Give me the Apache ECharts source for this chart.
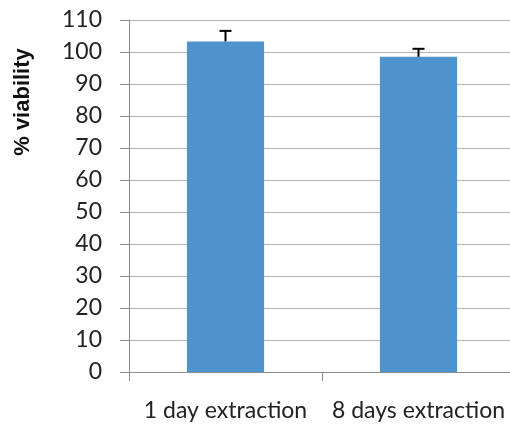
<!DOCTYPE html>
<html><head><meta charset="utf-8">
<script src="https://cdn.jsdelivr.net/npm/echarts@6/dist/echarts.min.js"></script>
<style>html,body{margin:0;padding:0;background:#fff}#c{width:510px;height:428px}</style>
</head><body><div id="c"></div>
<script>
const categories = ['1 day extraction', '8 days extraction'];
const viability = [103.3, 98.5];
const errors = [3.3, 2.5];
const yTicks = {min: 0, max: 110, interval: 10};

const chart = echarts.init(document.getElementById('c'));
chart.setOption({
  animation: false,
  grid: {left: 129, width: 386, top: 20, height: 352, outerBoundsMode: 'none'},
  xAxis: {
    type: 'category', data: categories,
    axisLine: {lineStyle: {color: '#8c8c8c', width: 1}},
    axisTick: {show: true, length: 9, alignWithLabel: false, lineStyle: {color: '#8c8c8c'}},
    axisLabel: {interval: 0, hideOverlap: false, margin: 27, fontFamily: 'Lato', fontSize: 23, color: '#222'}
  },
  yAxis: {
    type: 'value', min: yTicks.min, max: yTicks.max, interval: yTicks.interval,
    axisLine: {show: true, lineStyle: {color: '#8c8c8c'}},
    axisTick: {show: true, length: 9, lineStyle: {color: '#8c8c8c'}},
    splitLine: {lineStyle: {color: '#b4b4b4', width: 1}},
    axisLabel: {margin: 27, fontFamily: 'Lato', fontSize: 23, color: '#222'}
  },
  graphic: [{
    type: 'text', x: 23, y: 102, rotation: Math.PI / 2,
    style: {text: '% viability', font: 'bold 22px "Liberation Sans"', fill: '#111', textAlign: 'center', textVerticalAlign: 'middle'}
  }],
  series: [{
    type: 'bar', data: viability, barWidth: '40%',
    itemStyle: {color: '#4f93cc'}
  }, {
    type: 'custom',
    data: viability.map((v, i) => [i, v, v + errors[i]]),
    renderItem: function (params, api) {
      const p0 = api.coord([api.value(0), api.value(1)]);
      const p1 = api.coord([api.value(0), api.value(2)]);
      const hw = 6;
      return {type: 'group', children: [
        {type: 'line', shape: {x1: p0[0], y1: p0[1], x2: p1[0], y2: p1[1]}, style: {stroke: '#000', lineWidth: 2}},
        {type: 'line', shape: {x1: p1[0] - hw, y1: p1[1], x2: p1[0] + hw, y2: p1[1]}, style: {stroke: '#000', lineWidth: 2}}
      ]};
    },
    z: 5
  }]
});
</script></body></html>
